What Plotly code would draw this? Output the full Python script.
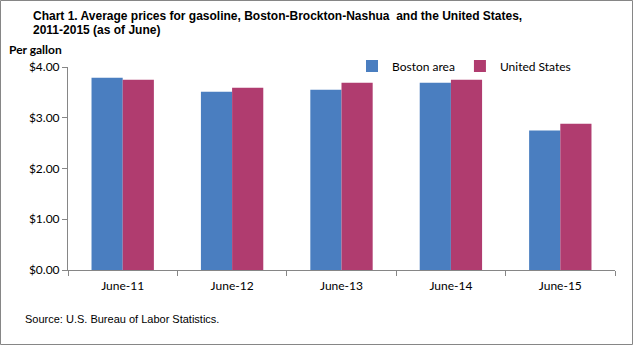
import plotly.graph_objects as go

categories = ["June-11", "June-12", "June-13", "June-14", "June-15"]
boston = [3.79, 3.51, 3.55, 3.69, 2.75]
us = [3.75, 3.59, 3.69, 3.75, 2.88]
yticks = [0, 1, 2, 3, 4]
yticklabels = ["$%.2f" % v for v in yticks]

BLUE = "#4A7EC0"
RED = "#B03C6F"
AXIS = "#868686"
TICKFONT = dict(family="Lato, Carlito, Calibri, sans-serif", size=12, color="#000000")
NARROW = "Liberation Sans Narrow, Arial Narrow, sans-serif"

W, H = 634, 346
L, R, T, B = 68, 19, 67, 76
pw = W - L - R
ph = H - T - B

fig = go.Figure()
fig.add_trace(go.Bar(name="Boston area", x=categories, y=boston, marker=dict(color=BLUE, line=dict(width=0))))
fig.add_trace(go.Bar(name="United States", x=categories, y=us, marker=dict(color=RED, line=dict(width=0))))

def px2x(px):
    return (px - L) / pw

def py2y(py):
    return (H - B - py) / ph

title_font = dict(family=NARROW, size=12, color="#000000")

fig.update_layout(
    width=W, height=H,
    margin=dict(l=L, r=R, t=T, b=B),
    paper_bgcolor="white", plot_bgcolor="white",
    barmode="group", bargap=0.43, bargroupgap=0,
    showlegend=True,
    legend=dict(
        orientation="h", x=px2x(352), xanchor="left", y=py2y(66), yanchor="middle",
        font=dict(family="Lato, Carlito, sans-serif", size=12, color="#000000"),
        bgcolor="rgba(0,0,0,0)", traceorder="normal",
    ),
    xaxis=dict(
        showline=True, linecolor=AXIS, linewidth=1,
        ticks="outside", tickson="boundaries", ticklen=5, tickcolor=AXIS,
        tickfont=TICKFONT, showgrid=False, zeroline=False, ticklabelstandoff=5,
    ),
    yaxis=dict(
        range=[0, 4], tickvals=yticks, ticktext=yticklabels,
        showline=True, linecolor=AXIS, linewidth=1,
        ticks="outside", ticklen=5, tickcolor=AXIS,
        tickfont=TICKFONT, showgrid=False, zeroline=False,
    ),
    annotations=[
        dict(text="<b>Chart 1. Average prices for gasoline, Boston-Brockton-Nashua  and the United States,</b>",
             x=px2x(31), y=py2y(16), xref="paper", yref="paper",
             xanchor="left", yanchor="middle", showarrow=False, font=title_font),
        dict(text="<b>2011-2015 (as of June)</b>",
             x=px2x(31), y=py2y(30), xref="paper", yref="paper",
             xanchor="left", yanchor="middle", showarrow=False, font=title_font),
        dict(text="<b>Per gallon</b>", x=px2x(7), y=py2y(49), xref="paper", yref="paper",
             xanchor="left", yanchor="middle", showarrow=False,
             font=dict(family="Lato, Carlito, sans-serif", size=12, color="#000000")),
        dict(text="Source: U.S. Bureau of Labor Statistics.", x=px2x(23), y=py2y(319), xref="paper", yref="paper",
             xanchor="left", yanchor="middle", showarrow=False,
             font=dict(family=NARROW, size=11, color="#000000")),
    ],
    shapes=[
        dict(type="rect", xref="paper", yref="paper",
             x0=px2x(0.5), x1=px2x(W - 1.5), y0=py2y(0.5), y1=py2y(H - 1.5),
             line=dict(color=AXIS, width=1), fillcolor="rgba(0,0,0,0)", layer="above"),
    ],
)

fig.write_html("out.html")
